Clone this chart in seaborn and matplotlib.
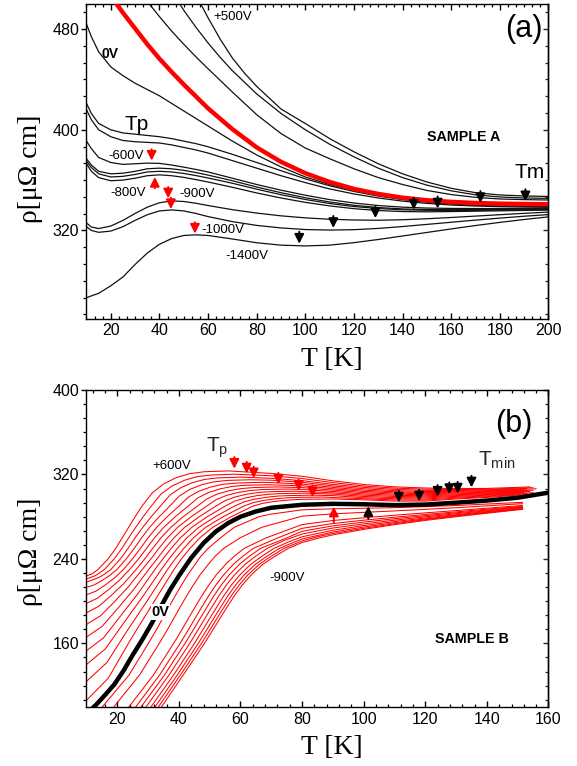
import matplotlib
matplotlib.use("Agg")
import matplotlib.pyplot as plt
import seaborn as sns
from matplotlib.ticker import MultipleLocator, AutoMinorLocator

# ---------------- Panel (a) data : SAMPLE A ----------------
a_T = [10, 12, 15, 20, 25, 30, 35, 40, 45, 50, 55, 60, 70, 80, 90, 100, 110, 120, 130, 140, 150, 160, 170, 180, 190, 200]

a_p500_T = [55, 57, 60, 65, 70, 75, 80, 90, 100, 110, 120, 130, 140, 150, 160, 170, 180, 190, 200]
a_p500_r = [507, 500, 489, 472, 457, 445, 434.5, 416.5, 405, 393, 382.5, 373, 365, 358.5, 353.5, 350, 348.2, 347.4, 347]
a_u2_T = [46, 48, 50, 55, 60, 65, 70, 80, 90, 100, 110, 120, 130, 140, 150, 160, 170, 180, 190, 200]
a_u2_r = [507, 501, 495, 481.5, 469, 457.5, 447, 428.5, 413, 400, 388.5, 378.5, 369.5, 362, 356, 351.5, 348.3, 346.6, 345.8, 345.5]
a_u1_T = [33, 35, 40, 45, 50, 55, 60, 70, 80, 90, 100, 110, 120, 130, 140, 150, 160, 170, 180, 190, 200]
a_u1_r = [507, 502, 490, 478.5, 468, 458, 448.5, 430, 412, 397, 385.5, 377, 369, 362, 356.5, 351.8, 348.5, 346.3, 345, 344.5, 344.2]
a_red_T = [21, 22, 25, 30, 35, 40, 45, 50, 55, 60, 70, 80, 90, 100, 110, 120, 130, 140, 150, 160, 170, 180, 190, 200]
a_red_r = [504, 501, 493, 480.5, 468, 456.5, 446, 436, 426.5, 417, 400.5, 386, 374.5, 365.5, 358.5, 353, 349, 346, 344, 342.7, 341.8, 341.3, 341, 340.8]

a_0V_r = [484, 474, 462, 450, 443, 437, 432, 427, 421, 415, 409, 403, 391, 380, 370.5, 362.5, 356.5, 352, 348.3, 345.5, 343.5, 342.2, 341.3, 340.7, 340.3, 340]
a_tp1_r = [421, 413, 405, 400, 397.5, 396.5, 395.5, 394.5, 393, 391, 389, 386.5, 380.5, 374, 367.5, 361, 355.5, 351, 347.3, 344.5, 342.5, 341, 340, 339.5, 339.2, 339]
a_tp2_r = [416, 408, 400, 394.5, 391.5, 390.5, 390, 389.5, 388, 386, 384, 381.5, 375.5, 369.5, 363.5, 358, 353, 349, 345.8, 343.3, 341.5, 340.2, 339.4, 338.9, 338.6, 338.4]
a_m600_r = [391, 385, 378, 374, 372.5, 373, 373.5, 373.3, 372, 370.3, 368.5, 366.5, 361.5, 356.5, 352, 348, 344.5, 341.8, 339.8, 338.5, 337.8, 337.5, 337.4, 337.4, 337.5, 337.6]
a_ga_r = [377, 372, 367, 365, 365.5, 367, 369, 369.5, 369, 367.8, 366, 364, 359.5, 354.5, 350, 346, 342.6, 340, 338.2, 337.1, 336.6, 336.5, 336.6, 336.7, 336.9, 337]
a_gb_r = [375, 370, 365, 362.5, 363, 364.5, 366.5, 367, 366.5, 365.3, 363.6, 361.7, 357.5, 352.8, 348.4, 344.6, 341.4, 339, 337.4, 336.4, 336, 335.9, 336, 336.2, 336.4, 336.6]
a_m800_r = [373, 367, 362, 359.5, 360, 361.5, 363.5, 364.2, 363.5, 362.2, 360.4, 358.5, 354.3, 349.8, 345.8, 342.3, 339.5, 337.3, 335.8, 335, 334.8, 335, 335.3, 335.6, 335.9, 336.2]
a_m900_r = [326, 322.7, 321.5, 323.5, 328, 333.5, 338.5, 342, 343.5, 343, 341.6, 339.8, 336.5, 333.8, 331.6, 330, 328.9, 328.3, 328.1, 328.5, 329.3, 330.3, 331.4, 332.5, 333.6, 334.6]
a_m1000_r = [323, 320, 318.5, 319.5, 323, 328, 332.5, 335.5, 336.3, 335.5, 333.5, 331, 327, 324, 322, 320.7, 320.3, 320.6, 321.6, 323.1, 324.8, 326.5, 328.2, 329.8, 331.3, 332.6]
a_m1400_r = [266.5, 268, 270, 276, 283, 293, 302, 309, 313.5, 316, 316.5, 316, 313.2, 310.2, 308.3, 307.7, 308.3, 310.3, 312.8, 315.6, 318.4, 321.2, 323.9, 326.4, 328.7, 330.8]

a_tp_down_x = [36.8, 43.6, 44.7, 54.6]
a_tp_down_tip = [375.5, 345.5, 337, 317.5]
a_tp_up_x = [38.1]
a_tp_up_tip = [362.5]
a_tm_x = [97.5, 111.5, 128.8, 144.6, 154.4, 172, 190.5]
a_tm_tip = [309.5, 322, 329.8, 336.5, 337.5, 341.8, 343.2]

# ---------------- Panel (b) data : SAMPLE B ----------------
b_up0_T = [10, 11.9, 13.75, 17, 19.5, 21.6, 23.7, 25.8, 28, 31.4, 35, 39.2, 43.4, 48.2, 56, 70, 80, 90, 100, 110, 120, 130, 140, 150, 154]
b_up0_r = [224, 226, 230, 240, 250, 260, 270, 280, 290, 302.7, 311, 317.1, 320.7, 322.6, 323.4, 321, 318.3, 314, 310.5, 308.3, 307.2, 306.6, 306.8, 307.8, 308.3]
b_up1_T = [10, 12.9, 15.8, 19, 21.5, 23.7, 26, 28.4, 31, 34.2, 37.75, 41.8, 45.85, 50.4, 58, 70, 80, 90, 100, 110, 120, 130, 140, 150, 155]
b_up1_r = [221, 224.2, 230, 240, 250, 260, 270, 280, 290, 301.5, 309.1, 314.5, 317.9, 319.5, 320.3, 318.8, 316.2, 312.3, 309.1, 307.1, 306.1, 305.7, 306, 307.1, 307.5]
b_up2_T = [10, 13.95, 15.9, 17.9, 21, 23.5, 25.8, 28.3, 31, 34, 37.1, 40.5, 44.4, 48.3, 52.7, 60, 70, 80, 90, 100, 110, 120, 130, 140, 150, 153]
b_up2_r = [218, 222.3, 225.7, 230, 240, 250, 260, 270, 280, 290, 300.5, 307.3, 312.3, 315.3, 316.8, 317.5, 316.4, 314.2, 310.6, 307.8, 305.9, 305, 304.8, 305.3, 306.5, 306.8]
b_up3_T = [10, 12.5, 14.95, 17.4, 19.9, 22.9, 25.5, 27.9, 30.5, 33.6, 37, 40.1, 43.5, 47.4, 51.3, 55.7, 63, 70, 80, 90, 100, 110, 120, 130, 140, 150, 156]
b_up3_r = [213, 215.4, 219.3, 224.1, 230, 240, 250, 260, 270, 280, 290, 299.5, 305.8, 310.3, 313, 314.4, 315, 314.6, 312.6, 309.2, 306.5, 304.7, 303.9, 304, 304.6, 305.9, 306.4]
b_up4_T = [10, 13, 16, 19, 22, 24.9, 27.5, 30, 32.8, 36.2, 40, 43.1, 46.5, 50.4, 54.3, 58.7, 66, 70, 80, 90, 100, 110, 120, 130, 140, 150, 152]
b_up4_r = [206, 209.4, 215.1, 221.8, 230, 240, 250, 260, 270, 280, 290, 298.6, 304.2, 308.2, 310.7, 311.9, 312.5, 312.4, 310.9, 307.8, 305.2, 303.6, 302.8, 303.2, 303.9, 305.3, 305.5]
b_up5_T = [10, 13.5, 17, 20.5, 24, 26.9, 29.5, 32.1, 35.1, 38.8, 43, 46.1, 49.5, 53.4, 57.3, 61.7, 69, 80, 90, 100, 110, 120, 130, 140, 150, 155]
b_up5_r = [198, 202.7, 210.5, 219.3, 230, 240, 250, 260, 270, 280, 290, 297.7, 302.8, 306.4, 308.7, 309.8, 310.3, 309.3, 306.5, 304, 302.5, 301.8, 302.4, 303.2, 304.7, 305.1]
b_up6_T = [10, 14, 18.05, 22.1, 26.1, 28.9, 31.5, 34.2, 37.4, 41.4, 46, 49.1, 52.5, 56.4, 60.3, 64.7, 72, 80, 90, 100, 110, 120, 130, 140, 150, 153]
b_up6_r = [189, 195.2, 205.4, 216.7, 230, 240, 250, 260, 270, 280, 290, 296.9, 301.5, 304.7, 306.7, 307.7, 308.2, 307.6, 305.2, 302.8, 301.4, 300.8, 301.6, 302.5, 304.1, 304.3]
b_up7_T = [10, 14.5, 19.05, 23.6, 28.1, 30.9, 33.5, 36.3, 39.6, 44, 49, 52.1, 55.5, 59.4, 63.3, 67.7, 75, 80, 90, 100, 110, 120, 130, 140, 150, 154]
b_up7_r = [178, 186, 199.3, 213.6, 230, 240, 250, 260, 270, 280, 290, 296.2, 300.2, 303.1, 304.9, 305.8, 306.2, 305.9, 303.9, 301.6, 300.3, 299.8, 300.8, 301.8, 303.5, 303.8]
b_up8_T = [10, 15.05, 20.1, 25.15, 30.2, 32.9, 35.5, 38.4, 41.9, 46.6, 52, 55.1, 58.5, 62.4, 66.3, 70.7, 78, 90, 100, 110, 120, 130, 140, 150, 152]
b_up8_r = [166, 176, 192.9, 210.4, 230, 240, 250, 260, 270, 280, 290, 295.4, 298.9, 301.5, 303.1, 303.8, 304.2, 302.6, 300.4, 299.2, 298.8, 300, 301.1, 302.9, 303.1]
b_up9_T = [10, 15.55, 21.1, 26.65, 32.2, 34.8, 37.5, 40.5, 44.2, 49.2, 55, 58.1, 61.5, 65.4, 69.3, 73.7, 81, 90, 100, 110, 120, 130, 140, 150, 155]
b_up9_r = [153, 165.3, 186.1, 206.9, 230, 240, 250, 260, 270, 280, 290, 294.7, 297.7, 300, 301.3, 302, 302.3, 301.4, 299.2, 298.1, 297.8, 299.2, 300.4, 302.3, 302.7]
b_up10_T = [10, 16.1, 22.15, 28.2, 34.3, 36.8, 39.5, 42.6, 46.5, 51.8, 58, 61.1, 64.5, 68.4, 72.3, 76.7, 84, 90, 100, 110, 120, 130, 140, 150, 153]
b_up10_r = [140, 154.7, 179.6, 204.1, 230, 240, 250, 260, 270, 280, 290, 294, 296.6, 298.4, 299.6, 300.1, 300.4, 300, 298, 297, 296.8, 298.4, 299.7, 301.7, 301.9]
b_up11_T = [10, 16.6, 23.15, 29.7, 36.3, 38.8, 41.6, 44.7, 48.7, 54.4, 61, 64.1, 67.5, 71.4, 75.3, 79.7, 87, 100, 110, 120, 130, 140, 150, 151]
b_up11_r = [124, 141.7, 171.7, 200.3, 230, 240, 250, 260, 270, 280, 290, 293.3, 295.4, 297, 297.9, 298.4, 298.6, 297, 295.9, 295.8, 297.6, 299, 301.1, 301.2]
b_up12_T = [10, 17.1, 24.2, 31.3, 38.4, 40.8, 43.6, 46.8, 51, 57, 64, 67.1, 70.5, 74.4, 78.3, 82.7, 90, 100, 110, 120, 130, 140, 150, 154]
b_up12_r = [106, 127.1, 163, 196.5, 230, 240, 250, 260, 270, 280, 290, 292.6, 294.3, 295.5, 296.3, 296.6, 296.8, 296, 294.8, 294.8, 296.8, 298.3, 300.5, 300.9]

b_0V_T = [10, 13, 16, 19, 22, 25, 28, 31, 34, 37, 40, 44, 48, 52, 56, 60, 65, 70, 80, 90, 100, 110, 120, 130, 140, 150, 160]
b_0V_r = [93, 101.5, 111, 121, 134, 149, 163, 178, 194, 210, 224, 241, 255, 266, 274, 280, 285, 288.5, 291.3, 292.2, 291.8, 291, 291.5, 293.3, 295.3, 298, 302.8]

b_lo0_T = [13.9, 15.2, 23.8, 30.1, 33.1, 35.9, 38.8, 40.8, 42.9, 45.3, 47.1, 49.5, 53.5, 58, 66, 70, 80, 90, 100, 110, 120, 130, 140, 150, 151.6]
b_lo0_r = [95, 100, 130, 160, 175, 190, 205, 215, 225, 235, 242.5, 250, 260, 270, 280, 282.5, 286.5, 287.5, 288, 288.6, 289.5, 290.6, 292, 293.4, 293.6]
b_lo1_T = [17.66, 18.92, 27.21, 33.63, 36.67, 39.55, 42.52, 44.62, 46.9, 49.57, 51.78, 54.54, 59.9, 66.92, 80, 90, 100, 110, 120, 130, 140, 150, 151.6]
b_lo1_r = [95, 100, 130, 160, 175, 190, 205, 215, 225, 235, 242.5, 250, 260, 270, 280.5, 282.7, 284.1, 285.5, 287, 288.5, 290.3, 292.1, 292.3]
b_lo2_T = [22.63, 23.84, 31.72, 38.29, 41.38, 44.36, 47.44, 49.67, 52.17, 55.2, 57.95, 61.2, 68.35, 80, 90, 100, 110, 120, 130, 140, 150, 151.6]
b_lo2_r = [95, 100, 130, 160, 175, 190, 205, 215, 225, 235, 242.5, 250, 260, 272.55, 276.4, 279, 281.4, 283.65, 285.8, 288.1, 290.3, 290.6]
b_lo3_T = [24.86, 26.05, 33.74, 40.38, 43.5, 46.52, 49.65, 51.93, 54.54, 57.73, 60.72, 64.19, 72.15, 80, 90, 100, 110, 120, 130, 140, 150, 151.6]
b_lo3_r = [95, 100, 130, 160, 175, 190, 205, 215, 225, 235, 242.5, 250, 260, 269, 273.55, 276.7, 279.5, 282.15, 284.6, 287.1, 289.5, 289.9]
b_lo4_T = [26.59, 27.76, 35.31, 42.0, 45.13, 48.2, 51.36, 53.68, 56.37, 59.69, 62.86, 66.5, 75.08, 80, 90, 100, 110, 120, 130, 140, 150, 151.6]
b_lo4_r = [95, 100, 130, 160, 175, 190, 205, 215, 225, 235, 242.5, 250, 260, 266.2, 271.35, 274.9, 278.1, 281, 283.7, 286.3, 288.9, 289.3]
b_lo5_T = [28.22, 29.37, 36.79, 43.53, 46.68, 49.77, 52.97, 55.34, 58.1, 61.54, 64.89, 68.69, 74, 80, 90, 100, 110, 120, 130, 140, 150, 151.6]
b_lo5_r = [95, 100, 130, 160, 175, 190, 205, 215, 225, 235, 242.5, 250, 257.3, 263.6, 269.3, 273.2, 276.7, 279.9, 282.8, 285.6, 288.3, 288.7]
b_lo6_T = [29.85, 30.98, 38.27, 45.06, 48.22, 51.35, 54.58, 56.99, 59.83, 63.38, 66.91, 70.87, 75.5, 80, 90, 100, 110, 120, 130, 140, 150, 151.6]
b_lo6_r = [95, 100, 130, 160, 175, 190, 205, 215, 225, 235, 242.5, 250, 256, 261, 267.2, 271.6, 275.4, 278.8, 281.9, 284.85, 287.7, 288.2]
b_lo7_T = [31.17, 32.29, 39.46, 46.3, 49.48, 52.63, 55.89, 58.33, 61.23, 64.88, 68.55, 72.64, 76.5, 80, 90, 100, 110, 120, 130, 140, 150, 151.6]
b_lo7_r = [95, 100, 130, 160, 175, 190, 205, 215, 225, 235, 242.5, 250, 254.8, 258.9, 265.5, 270.2, 274.3, 277.9, 281.2, 284.3, 287.3, 287.7]
b_lo8_T = [32.29, 33.4, 40.48, 47.35, 50.54, 53.72, 57.0, 59.48, 62.43, 66.16, 69.95, 74.15, 80, 85, 90, 100, 110, 120, 130, 140, 150, 151.6]
b_lo8_r = [95, 100, 130, 160, 175, 190, 205, 215, 225, 235, 242.5, 250, 257.1, 261, 264.1, 269, 273.3, 277.2, 280.6, 283.75, 286.9, 287.3]
b_lo9_T = [33.3, 34.4, 41.4, 48.3, 51.5, 54.7, 58, 60.5, 63.5, 67.3, 71.2, 75.5, 80, 85, 90, 100, 110, 120, 130, 140, 150, 151.6]
b_lo9_r = [95, 100, 130, 160, 175, 190, 205, 215, 225, 235, 242.5, 250, 255.5, 259.5, 262.8, 268, 272.5, 276.5, 280, 283.3, 286.5, 287]

b_tp_down_x = [58, 62, 64.3, 72.3, 78.9, 83.4]
b_tp_down_tip = [325.5, 321, 316.5, 310.5, 304.5, 298.5]
b_tp_up_x = [90.3]
b_tp_up_tip = [289.5]
b_tmin_down_x = [111.4, 118, 124, 127.8, 130.5, 135]
b_tmin_down_tip = [293.5, 294.5, 299, 301.5, 302, 307.8]
b_tmin_up_x = [101.5]
b_tmin_up_tip = [290]

# ---------------- style ----------------
sns.set_theme(style="ticks")
plt.rcParams["font.family"] = ["Liberation Sans", "DejaVu Sans"]
plt.rcParams["mathtext.fontset"] = "custom"
plt.rcParams["mathtext.rm"] = "Liberation Sans"
plt.rcParams["mathtext.it"] = "Liberation Sans:italic"
plt.rcParams["mathtext.bf"] = "Liberation Sans:bold"
plt.rcParams["axes.linewidth"] = 1.0

RED = "#ff0000"
BLK = "#111111"

fig = plt.figure(figsize=(5.77, 7.66), dpi=100)
axA = fig.add_axes([0.1499, 0.5842, 0.8007, 0.4106])
axB = fig.add_axes([0.1499, 0.0774, 0.8007, 0.4134])


def line(ax, T, r, color, lw, z=2):
    sns.lineplot(x=T, y=r, ax=ax, color=color, linewidth=lw, sort=False,
                 estimator=None, legend=False, zorder=z)


def arrows(ax, xs, tips, length, color, up=False):
    for x, t in zip(xs, tips):
        tail = t - length if up else t + length
        ax.annotate("", xy=(x, t), xytext=(x, tail),
                    arrowprops=dict(arrowstyle="-|>,head_length=0.55,head_width=0.28",
                                    color=color, lw=1.4, shrinkA=0, shrinkB=0,
                                    mutation_scale=10), zorder=6)


# ---- panel (a)
for T, r in [(a_p500_T, a_p500_r), (a_u2_T, a_u2_r), (a_u1_T, a_u1_r)]:
    line(axA, T, r, BLK, 0.9)
for r in [a_0V_r, a_tp1_r, a_tp2_r, a_m600_r, a_ga_r, a_gb_r, a_m800_r,
          a_m900_r, a_m1000_r, a_m1400_r]:
    line(axA, a_T, r, BLK, 0.9)
line(axA, a_red_T, a_red_r, RED, 3.2, z=3)

arrows(axA, a_tp_down_x, a_tp_down_tip, 9, RED)
arrows(axA, a_tp_up_x, a_tp_up_tip, 9, RED, up=True)
arrows(axA, a_tm_x, a_tm_tip, 9.5, "black")

txt = dict(ha="center", va="center", color="black")
axA.text(70.3, 489.4, "+500V", fontsize=9.5, **txt)
axA.text(19.7, 460.2, "0V", fontsize=10, fontweight="bold", **txt)
axA.text(30.6, 404.5, "Tp", fontsize=15, **txt)
axA.text(26.5, 379, "-600V", fontsize=9.5, **txt)
axA.text(27.2, 350, "-800V", fontsize=9.5, **txt)
axA.text(55.3, 349, "-900V", fontsize=9.5, **txt)
axA.text(66.2, 320, "-1000V", fontsize=9.5, **txt)
axA.text(75.8, 300, "-1400V", fontsize=9.5, **txt)
axA.text(165, 394.5, "SAMPLE A", fontsize=10.3, fontweight="bold", **txt)
axA.text(192.1, 366, "Tm", fontsize=15, **txt)
axA.text(189.8, 480, "(a)", fontsize=22, **txt)

axA.set_xlim(10, 200)
axA.set_ylim(250, 500)
axA.xaxis.set_major_locator(MultipleLocator(20))
axA.xaxis.set_minor_locator(AutoMinorLocator(6))
axA.yaxis.set_major_locator(MultipleLocator(80))
axA.yaxis.set_minor_locator(AutoMinorLocator(6))

# ---- panel (b)
ups = [(b_up0_T, b_up0_r), (b_up1_T, b_up1_r), (b_up2_T, b_up2_r), (b_up3_T, b_up3_r),
       (b_up4_T, b_up4_r), (b_up5_T, b_up5_r), (b_up6_T, b_up6_r), (b_up7_T, b_up7_r),
       (b_up8_T, b_up8_r), (b_up9_T, b_up9_r), (b_up10_T, b_up10_r), (b_up11_T, b_up11_r),
       (b_up12_T, b_up12_r)]
los = [(b_lo0_T, b_lo0_r), (b_lo1_T, b_lo1_r), (b_lo2_T, b_lo2_r), (b_lo3_T, b_lo3_r),
       (b_lo4_T, b_lo4_r), (b_lo5_T, b_lo5_r), (b_lo6_T, b_lo6_r), (b_lo7_T, b_lo7_r),
       (b_lo8_T, b_lo8_r), (b_lo9_T, b_lo9_r)]
for T, r in ups + los:
    line(axB, T, r, RED, 0.75)
line(axB, b_0V_T, b_0V_r, "black", 3.2, z=3)

arrows(axB, b_tp_down_x, b_tp_down_tip, 11, RED)
arrows(axB, b_tp_up_x, b_tp_up_tip, 15, RED, up=True)
arrows(axB, b_tmin_down_x, b_tmin_down_tip, 11, "black")
arrows(axB, b_tmin_up_x, b_tmin_up_tip, 12, "black", up=True)

axB.text(148.9, 368.3, "(b)", fontsize=22, **txt)
axB.text(48.8, 341.2, r"T$_\mathrm{p}$", fontsize=15, ha="left", va="baseline")
axB.text(37.6, 328, "+600V", fontsize=9.5, **txt)
axB.text(137, 328.8, r"T$_\mathrm{min}$", fontsize=15, ha="left", va="baseline")
axB.text(75.2, 221.5, "-900V", fontsize=9.5, **txt)
axB.text(34, 190, "0V", fontsize=10.5, fontweight="bold", zorder=8,
         bbox=dict(facecolor="white", edgecolor="none", pad=0.6), **txt)
axB.text(135.2, 164, "SAMPLE B", fontsize=10.3, fontweight="bold", **txt)

axB.set_xlim(10, 160)
axB.set_ylim(100, 400)
axB.xaxis.set_major_locator(MultipleLocator(20))
axB.xaxis.set_minor_locator(AutoMinorLocator(5))
axB.yaxis.set_major_locator(MultipleLocator(80))
axB.yaxis.set_minor_locator(AutoMinorLocator(6))

# ---- common axes styling
for ax, ylab_y in [(axA, 0.475), (axB, 0.489)]:
    for s in ax.spines.values():
        s.set_visible(True)
        s.set_color("black")
        s.set_linewidth(1.0)
    ax.tick_params(axis="x", which="both", direction="in", top=True, bottom=True,
                   labelsize=11.5, pad=3.5, colors="black")
    ax.tick_params(axis="x", which="major", length=4, width=1.0)
    ax.tick_params(axis="x", which="minor", length=2.3, width=0.9)
    ax.tick_params(axis="y", which="both", direction="out", left=True, right=False,
                   labelsize=11.5, pad=1.5, colors="black")
    ax.tick_params(axis="y", which="major", length=3.8, width=1.0)
    ax.tick_params(axis="y", which="minor", length=2.3, width=0.9)
    sec = ax.secondary_yaxis("right")
    sec.yaxis.set_major_locator(MultipleLocator(80))
    sec.yaxis.set_minor_locator(AutoMinorLocator(6))
    sec.tick_params(axis="y", which="both", direction="in", labelright=False)
    sec.tick_params(axis="y", which="major", length=3.8, width=1.0)
    sec.tick_params(axis="y", which="minor", length=2.3, width=0.9)
    sec.spines["right"].set_linewidth(1.0)
    ax.set_xlabel("T [K]", fontfamily="Liberation Serif", fontsize=20, color="black")
    ax.set_ylabel("ρ[μΩ cm]", fontfamily="Liberation Serif", fontsize=20, color="black")
    ax.xaxis.set_label_coords(0.53, -0.09)
    ax.yaxis.set_label_coords(-0.095, ylab_y)
    ax.grid(False)

fig.savefig("out.png", dpi=100, facecolor="white")
